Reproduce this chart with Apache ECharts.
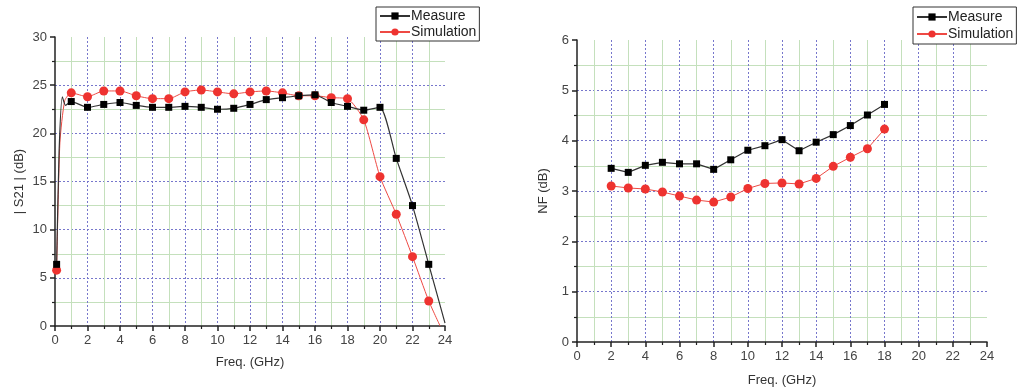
<!DOCTYPE html>
<html style="height: 100%">
<head>
    <meta charset="utf-8">
    <script src="https://cdn.jsdelivr.net/npm/echarts@6/dist/echarts.min.js"></script>
</head>
<body style="height: 100%; margin: 0; background: #fff;">
<div id="container" style="width: 1025px; height: 392px;"></div>
<script type="text/javascript">
    // S21 chart data
    var s21MeasureFreq = [0.1, 0.25, 0.45, 0.65, 1, 2, 3, 4, 5, 6, 7, 8, 9, 10, 11, 12, 13, 14, 15, 16, 17, 18, 19, 20, 21, 22, 23, 24];
    var s21Measure = [6.4, 18, 23.8, 22.9, 23.3, 22.7, 23.0, 23.2, 22.9, 22.7, 22.7, 22.8, 22.7, 22.5, 22.6, 23.0, 23.5, 23.7, 23.9, 24.0, 23.2, 22.8, 22.4, 22.7, 17.4, 12.5, 6.4, 0.3];
    var s21MeasureNoMark = [1, 2, 3, 27];
    var s21SimFreq = [0.1, 0.3, 0.6, 1, 2, 3, 4, 5, 6, 7, 8, 9, 10, 11, 12, 13, 14, 15, 16, 17, 18, 19, 20, 21, 22, 23, 23.7];
    var s21Sim = [5.8, 19, 23.4, 24.2, 23.8, 24.4, 24.4, 23.9, 23.6, 23.6, 24.3, 24.5, 24.3, 24.1, 24.3, 24.4, 24.2, 23.9, 23.9, 23.7, 23.6, 21.4, 15.5, 11.6, 7.2, 2.6, 0];
    var s21SimNoMark = [1, 2, 26];

    // NF chart data
    var nfFreq = [2, 3, 4, 5, 6, 7, 8, 9, 10, 11, 12, 13, 14, 15, 16, 17, 18];
    var nfMeasure = [3.45, 3.37, 3.51, 3.57, 3.54, 3.54, 3.43, 3.62, 3.81, 3.90, 4.02, 3.80, 3.97, 4.12, 4.30, 4.51, 4.72];
    var nfSim = [3.10, 3.06, 3.04, 2.98, 2.90, 2.82, 2.78, 2.88, 3.05, 3.15, 3.16, 3.14, 3.25, 3.49, 3.67, 3.84, 4.23];

    function pairs(xs, ys, noMark) {
        var out = [];
        for (var i = 0; i < xs.length; i++) {
            var item = { value: [xs[i], ys[i]] };
            if (noMark && noMark.indexOf(i) >= 0) item.symbol = 'none';
            out.push(item);
        }
        return out;
    }

    var font = '"Liberation Sans", Arial, sans-serif';
    var blueGrid = { color: '#7777cc', width: 1, type: [2, 2] };
    var greenGrid = { color: '#c4e0bc', width: 1, type: 'solid' };

    function valueAxis(opt) {
        return Object.assign({
            type: 'value',
            nameLocation: 'middle',
            nameTextStyle: { fontFamily: font, fontSize: 13, color: '#333' },
            axisLine: { show: true, onZero: false, lineStyle: { color: '#222', width: 1.5 } },
            axisTick: { show: true, length: 5, lineStyle: { color: '#222', width: 1.5 } },
            minorTick: { show: true, splitNumber: 2, length: 3, lineStyle: { color: '#222', width: 1.2 } },
            axisLabel: { fontFamily: font, fontSize: 13, color: '#444', margin: 8 },
            splitLine: { show: true, showMinLine: false, showMaxLine: false, lineStyle: blueGrid },
            minorSplitLine: { show: true, lineStyle: greenGrid }
        }, opt);
    }

    var measureStyle = {
        type: 'line',
        symbol: 'rect',
        symbolSize: 7,
        lineStyle: { color: '#333', width: 1.2 },
        itemStyle: { color: '#000' },
        smooth: 0.2,
        animation: false
    };
    var simStyle = {
        type: 'line',
        symbol: 'circle',
        symbolSize: 9,
        lineStyle: { color: '#ee4a44', width: 1 },
        itemStyle: { color: '#ee3330' },
        smooth: 0.2,
        animation: false
    };

    var myChart = echarts.init(document.getElementById('container'));
    var option = {
        backgroundColor: '#fff',
        grid: [
            { left: 55, top: 37, width: 390, height: 289 },
            { left: 577, top: 40, width: 410, height: 303 }
        ],
        legend: [
            {
                left: 376, top: 7, orient: 'vertical',
                data: ['Measure', 'Simulation'],
                borderColor: '#333', borderWidth: 1, padding: [2, 3, 2, 3],
                itemGap: 2, itemWidth: 30, itemHeight: 9, backgroundColor: '#fff',
                textStyle: { fontFamily: font, fontSize: 14, color: '#222', padding: [0, 0, 0, -4] }
            },
            {
                left: 913, top: 7, orient: 'vertical',
                data: ['Measure', 'Simulation'],
                borderColor: '#333', borderWidth: 1, padding: [3, 3, 3, 3],
                itemGap: 3, itemWidth: 30, itemHeight: 9, backgroundColor: '#fff',
                textStyle: { fontFamily: font, fontSize: 14, color: '#222', padding: [0, 0, 0, -4] }
            }
        ],
        xAxis: [
            valueAxis({ gridIndex: 0, min: 0, max: 24, interval: 2, name: 'Freq. (GHz)', nameGap: 30 }),
            valueAxis({ gridIndex: 1, min: 0, max: 24, interval: 2, name: 'Freq. (GHz)', nameGap: 32 })
        ],
        yAxis: [
            valueAxis({ gridIndex: 0, min: 0, max: 30, interval: 5, name: '| S21 | (dB)', nameGap: 29 }),
            valueAxis({ gridIndex: 1, min: 0, max: 6, interval: 1, name: 'NF (dB)', nameGap: 27 })
        ],
        series: [
            Object.assign({ name: 'Measure', xAxisIndex: 0, yAxisIndex: 0, data: pairs(s21MeasureFreq, s21Measure, s21MeasureNoMark), z: 3 }, measureStyle),
            Object.assign({ name: 'Simulation', xAxisIndex: 0, yAxisIndex: 0, data: pairs(s21SimFreq, s21Sim, s21SimNoMark), z: 2 }, simStyle),
            Object.assign({ name: 'Measure', xAxisIndex: 1, yAxisIndex: 1, data: pairs(nfFreq, nfMeasure), z: 3 }, measureStyle, { smooth: false }),
            Object.assign({ name: 'Simulation', xAxisIndex: 1, yAxisIndex: 1, data: pairs(nfFreq, nfSim), z: 2 }, simStyle, { smooth: false })
        ]
    };
    myChart.setOption(option, true);
</script>
</body>
</html>
